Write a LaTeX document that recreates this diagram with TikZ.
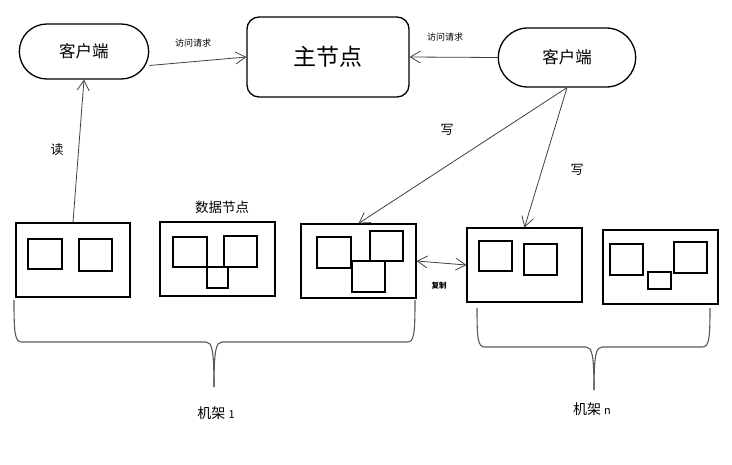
\documentclass[tikz,border=0pt]{standalone}
\usepackage{fontspec}
\setmainfont{Noto Sans CJK SC}
\usetikzlibrary{arrows.meta,shapes.misc}
\begin{document}
\begin{tikzpicture}[x=1pt,y=-1pt,
  box/.style={draw,line width=1.1pt,rectangle,inner sep=0pt,minimum width=115pt,minimum height=74pt},
  inner/.style={line width=1.1pt},
  client/.style={draw,line width=1.3pt,rounded rectangle,minimum width=136pt,minimum height=55pt,font=\fontsize{16.5}{16.5}\selectfont},
  conn/.style={draw=black!75,line width=0.8pt,-{Straight Barb[length=10pt,width=12pt]}},
  lbl/.style={inner sep=0pt},
  brace/.style={draw=black!65,line width=1.1pt}]
\useasboundingbox (0,0) rectangle (732,464);
% top nodes
\node[client] (cl) at (84,51.5) {客户端};
\node[client,minimum width=144pt,minimum height=59pt] (rc) at (567,57.5) {客户端};
\node[draw,line width=1.3pt,rounded corners=12pt,minimum width=162pt,minimum height=80pt,font=\fontsize{23}{23}\selectfont] (ms) at (328,57) {主节点};
% data node boxes
\node[box,minimum width=114pt] (b1) at (73,260) {};
\node[box] (b2) at (217.5,259) {};
\node[box] (b3) at (358.5,261) {};
\node[box] (b4) at (524.5,265) {};
\node[box] (b5) at (660.5,267) {};
% inner blocks
\draw[inner] (28,239) rectangle (62,269) (79,239) rectangle (112,271);
\draw[inner] (173,237) rectangle (207,267) (224,236) rectangle (257,267) (207,267) rectangle (228,288);
\draw[inner] (317,237) rectangle (351,268) (370,231) rectangle (403,261) (352,261) rectangle (385,292);
\draw[inner] (479,241) rectangle (512,271) (524,244) rectangle (557,275);
\draw[inner] (610,244) rectangle (643,275) (674,242) rectangle (707,273) (648,272) rectangle (671,289);
% connectors
\draw[conn] ([yshift=-14pt]cl.east) -- (ms.west);
\draw[conn] (rc.west) -- (ms.east);
\draw[conn] (b1.north) -- (cl.south);
\draw[conn] (rc.south) -- (b3.north);
\draw[conn] (rc.south) -- (b4.north);
\draw[conn,{Straight Barb[length=10pt,width=12pt]}-{Straight Barb[length=10pt,width=12pt]}] (b3.east) -- (b4.west);
% labels
\node[lbl,font=\fontsize{9}{9}\selectfont] (q1) at (193,43) {访问请求};
\node[lbl,font=\fontsize{9}{9}\selectfont] (q2) at (445,37) {访问请求};
\node[lbl,font=\fontsize{13}{13}\selectfont] (rd) at (57,150) {读};
\node[lbl,font=\fontsize{13}{13}\selectfont] (w1) at (447,130) {写};
\node[lbl,font=\fontsize{13}{13}\selectfont] (w2) at (577,170) {写};
\node[lbl,font=\fontsize{13.5}{14}\selectfont] (dn) at (222,207) {数据节点};
\node[lbl,font=\fontsize{7.5}{8}\bfseries\selectfont] (cp) at (439,286) {复制};
\node[lbl,font=\fontsize{14}{14}\selectfont] (r1) at (216,413) {机架 {\fontsize{11}{11}\selectfont 1}};
\node[lbl,font=\fontsize{14}{14}\selectfont] (rn) at (592,409) {机架 {\fontsize{11}{11}\selectfont n}};
% braces
\draw[brace] (14,300) .. controls (14,335) and (15,342) .. (22,342) -- (206,342) .. controls (212,342) and (214,350) .. (214,387);
\draw[brace] (415,300) .. controls (415,335) and (414,342) .. (407,342) -- (222,342) .. controls (216,342) and (214,350) .. (214,387);
\draw[brace] (477,308) .. controls (477,340) and (478,347) .. (485,347) -- (586,347) .. controls (592,347) and (594,355) .. (594,390);
\draw[brace] (710,308) .. controls (710,340) and (709,347) .. (702,347) -- (602,347) .. controls (596,347) and (594,355) .. (594,390);
\end{tikzpicture}
\end{document}
